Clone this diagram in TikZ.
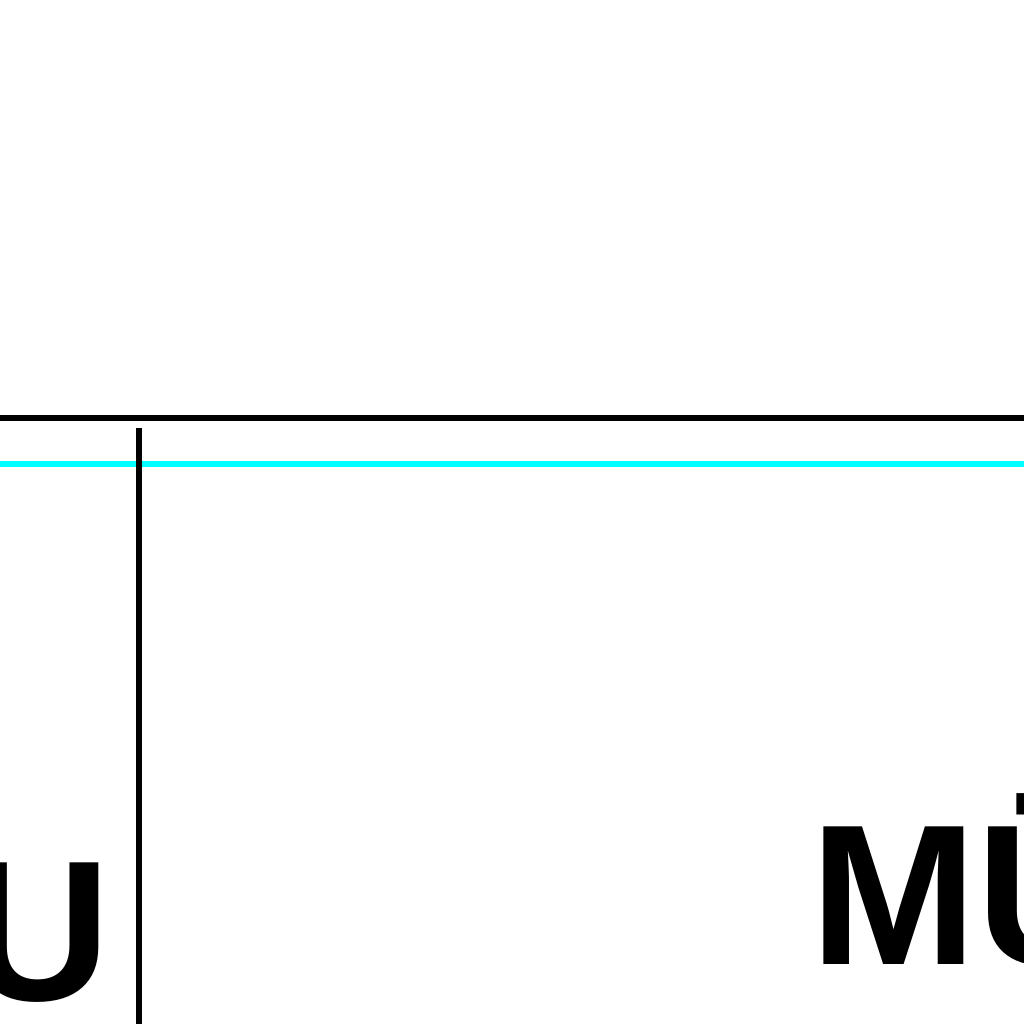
\documentclass[tikz,border=0pt]{standalone}
\usepackage{fontspec}
\setmainfont{Liberation Sans}
\definecolor{linecyan}{RGB}{0,255,255}
\begin{document}
\begin{tikzpicture}[line width=1.67pt]
    \useasboundingbox (0,0) rectangle (10,10);
    \clip (0,0) rectangle (10,10);

    \draw (-.2,5.918) --(10.2,5.918);
    \draw[linecyan] (-.2,5.469) --(10.2,5.469);
    \draw (1.357,5.82) --(1.357,-.2);

    \path (1.113,.234) node[anchor=base east,inner sep=0pt,font=\fontsize{55.6}{60}\bfseries] (u) {U};
    \path (7.881,.58) node[anchor=base west,inner sep=0pt,font=\fontsize{55.6}{60}\bfseries] (mu) {MÜ};
  \end{tikzpicture}
\end{document}
